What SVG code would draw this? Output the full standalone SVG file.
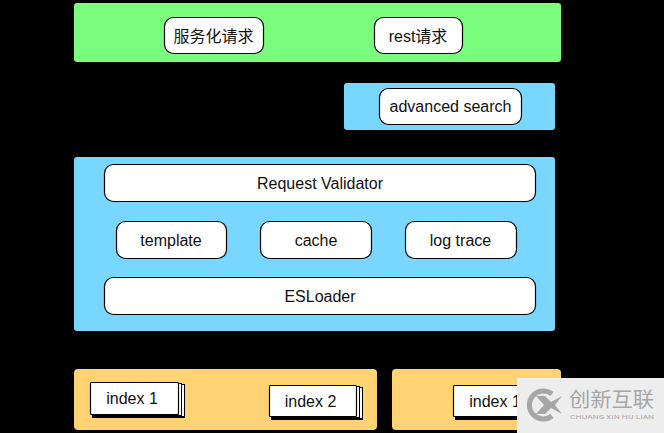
<svg xmlns="http://www.w3.org/2000/svg" width="664" height="433" viewBox="0 0 664 433">
<style>
.panel{stroke:none}
.green{fill:#7afd7c}.blue{fill:#79d6ff}.orange{fill:#ffd273}
.box{fill:#fff;stroke:#000;stroke-width:1.2}
.sheet{fill:#fff;stroke:#000;stroke-width:1}
text{font-family:"Liberation Sans","Noto Sans CJK SC",Arial,sans-serif;font-size:16px;fill:#111;text-anchor:middle}
.wm{font-family:"Noto Sans CJK SC","Liberation Sans",sans-serif;fill:#a6a6a6;text-anchor:start}
</style>
<rect width="664" height="433" fill="#000"/>
<g id="panels">
<rect class="panel green" x="74" y="3" width="487" height="59" rx="3"/>
<rect class="panel blue" x="344" y="83" width="211" height="47" rx="3"/>
<rect class="panel blue" x="74" y="157" width="481" height="174" rx="3"/>
<rect class="panel orange" x="74" y="369" width="303" height="61" rx="4"/>
<rect class="panel orange" x="392" y="369" width="169" height="61" rx="4"/>
</g>
<g id="connectors"></g>
<g id="node-service"><rect class="box" x="164.500" y="17.500" width="99" height="36" rx="9"/><text x="213.500" y="42">服务化请求</text></g>
<g id="node-rest"><rect class="box" x="374.500" y="17.500" width="88" height="36" rx="9"/><text x="418" y="42">rest请求</text></g>
<g id="node-advanced"><rect class="box" x="379.500" y="88.500" width="142" height="36" rx="9"/><text x="450.500" y="112">advanced search</text></g>
<g id="node-validator"><rect class="box" x="104.500" y="164.500" width="431" height="37" rx="9"/><text x="320" y="189">Request Validator</text></g>
<g id="node-template"><rect class="box" x="116.500" y="221.500" width="110" height="37" rx="9"/><text x="171" y="246">template</text></g>
<g id="node-cache"><rect class="box" x="260.500" y="221.500" width="111" height="37" rx="9"/><text x="316" y="246">cache</text></g>
<g id="node-logtrace"><rect class="box" x="405.500" y="221.500" width="111" height="37" rx="9"/><text x="460.500" y="246">log trace</text></g>
<g id="node-esloader"><rect class="box" x="104.500" y="277.500" width="431" height="37" rx="9"/><text x="320" y="302">ESLoader</text></g>
<g id="node-index1">
<rect x="92" y="385" width="93" height="33" fill="#000"/>
<rect class="sheet" x="94.500" y="384.500" width="90" height="32"/>
<rect class="sheet" x="92.500" y="383.500" width="89" height="32"/>
<rect class="box" x="90.500" y="382.500" width="88" height="32" rx="1"/>
<text x="132" y="404">index 1</text></g>
<g id="node-index2">
<rect x="271" y="388" width="92" height="32" fill="#000"/>
<rect class="sheet" x="273.500" y="387.500" width="89" height="31"/>
<rect class="sheet" x="271.500" y="386.500" width="88" height="31"/>
<rect class="box" x="269.500" y="385.500" width="87" height="31" rx="1"/>
<text x="310.500" y="407">index 2</text></g>
<g id="node-index3">
<rect x="455" y="388" width="80" height="32" fill="#000"/>
<rect class="box" x="453.500" y="385.500" width="80" height="31" rx="1"/>
<text x="495" y="407">index 1</text></g>
<g id="watermark">
<rect x="517" y="378" width="147" height="55" fill="#ededed"/>
<path d="M552 394A14 14 0 1 0 552 416" fill="none" stroke="#a6a6a6" stroke-width="5"/>
<path d="M536 396L545 396L551 402L562 396L555 405L562 414L551 408L545 414L536 414L544 405Z" fill="#a6a6a6"/>
<text class="wm" x="569" y="407" style="font-size:20px" textLength="85" lengthAdjust="spacingAndGlyphs">创新互联</text>
<text class="wm" x="570" y="419" style="font-size:5px" textLength="84" lengthAdjust="spacingAndGlyphs">CHUANG XIN HU LIAN</text>
</g>
</svg>
